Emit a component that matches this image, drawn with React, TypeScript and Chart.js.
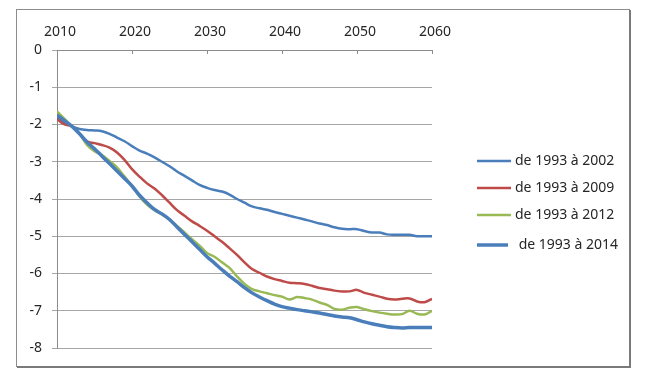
import React, { useEffect, useRef } from 'react';
import { Chart, registerables } from 'chart.js';
Chart.register(...registerables);

const years = [
  2010, 2011, 2012, 2013, 2014, 2015, 2016, 2017, 2018, 2019,
  2020, 2021, 2022, 2023, 2024, 2025, 2026, 2027, 2028, 2029,
  2030, 2031, 2032, 2033, 2034, 2035, 2036, 2037, 2038, 2039,
  2040, 2041, 2042, 2043, 2044, 2045, 2046, 2047, 2048, 2049,
  2050, 2051, 2052, 2053, 2054, 2055, 2056, 2057, 2058, 2059, 2060,
];

const seriesNames = ['de 1993 à 2002', 'de 1993 à 2009', 'de 1993 à 2012', ' de 1993 à 2014'];

const s2002 = [
  -1.80, -1.95, -2.05, -2.12, -2.15, -2.16, -2.18, -2.25, -2.35, -2.45,
  -2.58, -2.70, -2.78, -2.88, -3.00, -3.12, -3.26, -3.38, -3.50, -3.62,
  -3.70, -3.76, -3.80, -3.88, -4.00, -4.10, -4.20, -4.25, -4.29, -4.35,
  -4.40, -4.45, -4.50, -4.55, -4.60, -4.66, -4.70, -4.76, -4.80, -4.81,
  -4.81, -4.86, -4.90, -4.90, -4.95, -4.96, -4.96, -4.96, -5.00, -5.00, -5.00,
];

const s2009 = [
  -1.85, -2.00, -2.05, -2.25, -2.45, -2.50, -2.55, -2.62, -2.75, -2.95,
  -3.20, -3.40, -3.58, -3.72, -3.90, -4.10, -4.30, -4.45, -4.60, -4.72,
  -4.85, -5.00, -5.15, -5.32, -5.50, -5.70, -5.88, -5.98, -6.08, -6.15,
  -6.20, -6.25, -6.26, -6.28, -6.33, -6.39, -6.42, -6.46, -6.48, -6.48,
  -6.44, -6.52, -6.57, -6.62, -6.68, -6.70, -6.68, -6.67, -6.75, -6.77, -6.68,
];

const s2012 = [
  -1.65, -1.85, -2.05, -2.25, -2.55, -2.72, -2.82, -2.98, -3.15, -3.40,
  -3.65, -3.93, -4.15, -4.30, -4.42, -4.55, -4.72, -4.90, -5.08, -5.25,
  -5.45, -5.55, -5.70, -5.85, -6.08, -6.28, -6.42, -6.48, -6.53, -6.58,
  -6.62, -6.70, -6.63, -6.66, -6.70, -6.78, -6.84, -6.95, -6.97, -6.92,
  -6.90, -6.96, -7.01, -7.05, -7.08, -7.10, -7.09, -7.00, -7.08, -7.10, -7.00,
];

const s2014 = [
  -1.75, -1.90, -2.05, -2.25, -2.47, -2.65, -2.85, -3.05, -3.25, -3.45,
  -3.65, -3.90, -4.10, -4.28, -4.40, -4.55, -4.75, -4.95, -5.15, -5.35,
  -5.55, -5.72, -5.90, -6.07, -6.22, -6.38, -6.52, -6.63, -6.73, -6.82,
  -6.89, -6.93, -6.97, -7.00, -7.03, -7.06, -7.10, -7.14, -7.17, -7.19,
  -7.24, -7.30, -7.35, -7.39, -7.43, -7.45, -7.46, -7.45, -7.45, -7.45, -7.45,
];

const colors = ['#4A7EBB', '#BE4B48', '#98B954', '#4A7EBB'];
const widths = [2.5, 2.5, 2.5, 3.5];

const FONT = '"Noto Sans", "Open Sans", sans-serif';

const framePlugin = {
  id: 'frame',
  beforeDraw(chart: any) {
    const ctx = chart.ctx;
    ctx.save();
    ctx.fillStyle = '#ffffff';
    ctx.fillRect(0, 0, chart.width, chart.height);
    ctx.strokeStyle = '#8c8c8c';
    ctx.lineWidth = 1;
    ctx.strokeRect(16.5, 9.5, 613, 357);
    ctx.fillStyle = '#7a7a7a';
    ctx.fillRect(17, 366, 614, 2);
    ctx.fillRect(629, 10, 2, 358);
    ctx.restore();
  },
  afterDraw(chart: any) {
    const ctx = chart.ctx;
    const xs = chart.scales.x;
    const top = chart.chartArea.top;
    ctx.save();
    ctx.strokeStyle = '#8c8c8c';
    ctx.lineWidth = 1;
    xs.ticks.forEach((t: any) => {
      const px = Math.round(xs.getPixelForValue(t.value)) + 0.5;
      ctx.beginPath();
      ctx.moveTo(px, top);
      ctx.lineTo(px, top + 4);
      ctx.stroke();
    });
    // legend
    const rows = [161, 188, 215, 245];
    ctx.font = '14px ' + FONT;
    ctx.textBaseline = 'middle';
    ctx.fillStyle = '#262626';
    chart.data.datasets.forEach((ds: any, i: number) => {
      const y = rows[i];
      ctx.strokeStyle = ds.borderColor;
      ctx.lineWidth = ds.borderWidth;
      ctx.beginPath();
      ctx.moveTo(477, y);
      ctx.lineTo(i === 3 ? 508 : 511, y);
      ctx.stroke();
      ctx.fillText(ds.label, 515, y);
    });
    ctx.restore();
  },
};

export default function App() {
  const ref = useRef<HTMLCanvasElement | null>(null);
  useEffect(() => {
    if (!ref.current) return;
    const all = [s2002, s2009, s2012, s2014];
    const chart = new Chart(ref.current, {
      type: 'line',
      data: {
        datasets: all.map((vals, i) => ({
          label: seriesNames[i],
          data: years.map((yr, j) => ({ x: yr, y: vals[j] })),
          borderColor: colors[i],
          backgroundColor: colors[i],
          borderWidth: widths[i],
          pointRadius: 0,
          tension: 0.35,
          fill: false,
          order: 3 - i,
        })),
      },
      options: {
        animation: false,
        responsive: false,
        maintainAspectRatio: false,
        layout: { padding: { left: 0, right: 219, top: 0, bottom: 29 } },
        plugins: { legend: { display: false }, tooltip: { enabled: false } },
        scales: {
          x: {
            type: 'linear',
            position: 'top',
            min: 2010,
            max: 2060,
            afterFit: (s: any) => { s.height = 50; },
            ticks: {
              stepSize: 10,
              padding: 10,
              labelOffset: 3,
              color: '#262626',
              font: { family: FONT, size: 14 },
              callback: (v: any) => String(v),
            },
            grid: { display: false, drawTicks: false },
            border: { display: true, color: '#8c8c8c', width: 1 },
          },
          y: {
            min: -8,
            max: 0,
            afterFit: (s: any) => { s.width = 57; },
            ticks: {
              stepSize: 1,
              padding: 10,
              color: '#262626',
              font: { family: FONT, size: 14 },
            },
            grid: { color: '#a6a6a6', lineWidth: 1, tickLength: 5, drawTicks: true },
            border: { display: true, color: '#8c8c8c', width: 1 },
          },
        },
      },
      plugins: [framePlugin],
    });
    return () => chart.destroy();
  }, []);
  return (
    <div style={{ position: 'absolute', left: 0, top: 0, width: 651, height: 377 }}>
      <canvas ref={ref} width={651} height={377} style={{ width: 651, height: 377, display: 'block' }} />
    </div>
  );
}
